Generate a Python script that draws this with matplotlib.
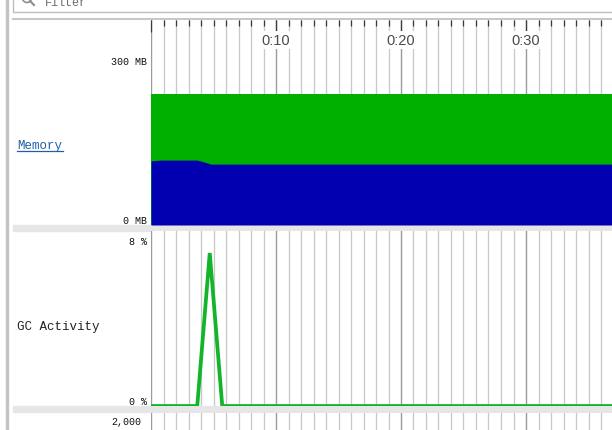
import matplotlib
matplotlib.use('Agg')
import matplotlib.pyplot as plt
from matplotlib.patches import Circle, Rectangle

W, H = 612, 431
X0, X_PER_SEC = 151, 12.5
T_MAX = (W - X0) / X_PER_SEC

# memory values (seconds, MB)
mem_time = [0, 0.8, 3.7, 4.4, 4.8, 37]
mem_total = [247, 247, 247, 247, 247, 247]
mem_used = [121, 122.6, 122.6, 118, 115, 115]

# gc activity values (seconds, percent)
gc_time = [0, 3.7, 4.7, 5.7, 37]
gc_pct = [0, 0, 7.65, 0, 0]

major_secs = [0, 10, 20, 30]
minor_secs = list(range(37))
major_labels = ['', '0:10', '0:20', '0:30']

MONO = 'Liberation Mono'
GREEN = '#00b000'
BLUE = '#0000b0'
GC_GREEN = '#12b52a'

fig = plt.figure(figsize=(W / 100, H / 100), dpi=100)


def panel(top, bottom):
    ax = fig.add_axes([X0 / W, 1 - bottom / H, 1 - X0 / W, (bottom - top) / H])
    ax.set_xlim(0, T_MAX)
    ax.set_xticks(major_secs)
    ax.set_xticks(minor_secs, minor=True)
    ax.grid(True, axis='x', which='minor', color='#c8c8c8', lw=0.95)
    ax.grid(True, axis='x', which='major', color='#9c9c9c', lw=1.0)
    ax.set_axisbelow(True)
    for s in ax.spines.values():
        s.set_visible(False)
    ax.tick_params(axis='x', which='both', bottom=False, labelbottom=False)
    ax.tick_params(axis='y', length=0, labelsize=7.2, pad=3, labelcolor='#111111')
    return ax


def ylabels(ax, ticks, labels):
    ax.set_yticks(ticks, labels, family=MONO)
    for t in ax.get_yticklabels():
        t.set_va('bottom')


# chrome behind the panels
bg = fig.add_axes([0, 0, 1, 1], zorder=-1)
bg.set_xlim(0, W)
bg.set_ylim(H, 0)
bg.axis('off')
bg.add_patch(Rectangle((5.5, 0), 2, H, color='#c4c4c4'))
bg.plot([13, 13, W], [0, 12.5, 12.5], color='#bdbdbd', lw=1)
bg.plot([13, W], [20, 20], color='#c8c8c8', lw=1.5)
bg.add_patch(Rectangle((13, 226), W - 13, 6, color='#e6e6e6'))
bg.add_patch(Rectangle((13, 407), W - 13, 6.5, color='#e6e6e6'))
bg.add_patch(Circle((27, -1), 4.5, fill=False, ec='#8a8f96', lw=1.2))
bg.plot([30, 34], [2, 6], color='#8a8f96', lw=1.5)
bg.text(45, 3, 'Filter', family=MONO, fontsize=8.5, color='#6d6d6d', va='center')
bg.text(17, 146, 'Memory', family=MONO, fontsize=9, color='#1f5fa8', va='center')
bg.plot([17, 63], [152, 152], color='#1f5fa8', lw=0.9)
bg.text(17, 327, 'GC Activity', family=MONO, fontsize=9, color='#222222', va='center')

# memory panel
ax_mem = panel(20.5, 226)
ax_mem.set_ylim(0, 388)
ax_mem.fill_between(mem_time, mem_total, color=GREEN, lw=0, zorder=3)
ax_mem.fill_between(mem_time, mem_used, color=BLUE, lw=0, zorder=4)
ylabels(ax_mem, [0, 300], ['0 MB', '300 MB'])
ax_mem.tick_params(axis='x', which='both', top=True, direction='in', color='#3a3a3a',
                   width=0.9)
ax_mem.tick_params(axis='x', which='major', length=8.5)
ax_mem.tick_params(axis='x', which='minor', length=4.5)
for sec, lab in zip(major_secs, major_labels):
    if lab:
        ax_mem.annotate(lab, (sec, 1), xycoords=('data', 'axes fraction'),
                        xytext=(0, -20.5 * 0.72), textcoords='offset points',
                        ha='center', va='center', family='Liberation Sans',
                        fontsize=10.5, color='#4a4a4a',
                        bbox=dict(fc='white', ec='none', pad=1.5))

# gc panel
ax_gc = panel(232, 407)
ax_gc.set_ylim(0, 8.75)
ax_gc.plot(gc_time, gc_pct, color=GC_GREEN, lw=2.7, solid_joinstyle='miter')
ylabels(ax_gc, [0, 8], ['0 %', '8 %'])

# next panel, mostly off the bottom of the view
ax_next = panel(413.5, H)
ax_next.set_ylim(1950, 2160)
ylabels(ax_next, [2000], ['2,000'])
ax_next.tick_params(axis='y', pad=7)

fig.savefig('out.png', dpi=100)
